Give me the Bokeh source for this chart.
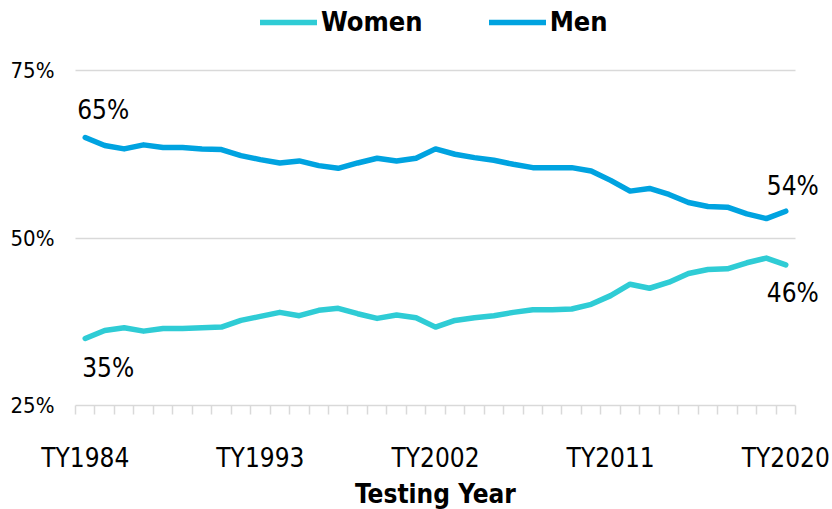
from bokeh.plotting import figure
from bokeh.models import (FixedTicker, PrintfTickFormatter, Legend, LegendItem,
                          Label, Range1d)
from bokeh.embed import file_html
from bokeh.resources import INLINE

years = list(range(1984, 2021))
men = [65.0, 63.8, 63.3, 63.9, 63.5, 63.5, 63.3, 63.2, 62.3, 61.7,
       61.2, 61.5, 60.8, 60.4, 61.2, 61.9, 61.5, 61.9, 63.3, 62.5,
       62.0, 61.6, 61.0, 60.5, 60.5, 60.5, 60.0, 58.6, 57.0, 57.4,
       56.5, 55.3, 54.7, 54.6, 53.6, 52.9, 54.0]
women = [35.0, 36.2, 36.6, 36.1, 36.5, 36.5, 36.6, 36.7, 37.7, 38.3,
         38.9, 38.4, 39.2, 39.5, 38.7, 38.0, 38.5, 38.1, 36.7, 37.7,
         38.1, 38.4, 38.9, 39.3, 39.3, 39.4, 40.1, 41.4, 43.1, 42.5,
         43.4, 44.7, 45.3, 45.4, 46.3, 47.0, 46.0]
tick_years = [1984, 1993, 2002, 2011, 2020]
tick_labels = ["TY1984", "TY1993", "TY2002", "TY2011", "TY2020"]
y_ticks = [25, 50, 75]
series_names = ["Women", "Men"]

FONT = "DejaVu Sans Condensed"
WOMEN_C = "#2FCCD5"
MEN_C = "#00A3E0"
GRID_C = "#d9d9d9"

# layout geometry (pixels); the frame fills the whole figure and the axes
# are pinned to the data edges of the plotting area
W, H = 832, 509
PLOT_L, PLOT_R = 75, 795      # pixel span of the category band area
PLOT_T, PLOT_B = 70, 405      # pixel span between 75% and 25%
x0, x1 = years[0] - 0.5, years[-1] + 0.5
ppx = (PLOT_R - PLOT_L) / (x1 - x0)
ppy = (PLOT_B - PLOT_T) / (y_ticks[-1] - y_ticks[0])
x_start = x0 - PLOT_L / ppx
x_end = x1 + (W - PLOT_R) / ppx
y_end = y_ticks[-1] + PLOT_T / ppy
y_start = y_ticks[0] - (H - PLOT_B) / ppy

p = figure(width=W, height=H, output_backend="svg", toolbar_location=None,
           x_range=Range1d(x_start, x_end), y_range=Range1d(y_start, y_end),
           min_border_left=0, min_border_right=0, min_border_top=0,
           min_border_bottom=0)
p.outline_line_color = None
p.background_fill_color = "white"
p.border_fill_color = "white"

# horizontal gridlines limited to the category area
p.xgrid.grid_line_color = None
yg = p.ygrid[0]
if "cross_bounds" in yg.properties():
    yg.ticker = FixedTicker(ticks=y_ticks[1:])
    yg.cross_bounds = (x0, x1)
    yg.grid_line_color = GRID_C
    yg.grid_line_width = 1.5
else:
    yg.grid_line_color = None
    gy = y_ticks[1:]
    p.segment(x0=[x0] * len(gy), y0=gy, x1=[x1] * len(gy), y1=gy,
              line_color=GRID_C, line_width=1.5, level="underlay")

rw = p.line(years, women, line_color=WOMEN_C, line_width=5.5,
            line_join="round", line_cap="round")
rm = p.line(years, men, line_color=MEN_C, line_width=5.5,
            line_join="round", line_cap="round")

# x axis, drawn at the 25% level
xa = p.xaxis[0]
xa.fixed_location = y_ticks[0]
xa.bounds = (x0, x1)
xa.ticker = FixedTicker(ticks=tick_years,
                        minor_ticks=[x0 + i for i in range(len(years) + 1)])
xa.major_label_overrides = {y: l for y, l in zip(tick_years, tick_labels)}
xa.major_tick_in = 0
xa.major_tick_out = 0
xa.minor_tick_in = 0
xa.minor_tick_out = 9
xa.minor_tick_line_color = GRID_C
xa.minor_tick_line_width = 1.5
xa.axis_line_color = GRID_C
xa.axis_line_width = 1.5
xa.major_label_standoff = 28
xa.major_label_text_font = FONT
xa.major_label_text_font_size = "26px"
xa.major_label_text_color = "black"
xa.axis_label = "Testing Year"
xa.axis_label_text_font = FONT
xa.axis_label_text_font_size = "26px"
xa.axis_label_text_font_style = "bold"
xa.axis_label_text_color = "black"
xa.axis_label_standoff = 3

# y axis, drawn at the left edge of the category area
ya = p.yaxis[0]
ya.fixed_location = x0
ya.bounds = (y_ticks[0], y_ticks[-1])
ya.ticker = FixedTicker(ticks=y_ticks)
ya.formatter = PrintfTickFormatter(format="%d%%")
ya.axis_line_color = None
ya.major_tick_line_color = None
ya.major_tick_out = 0
ya.major_tick_in = 0
ya.minor_tick_line_color = None
ya.minor_tick_out = 0
ya.major_label_standoff = 21
ya.major_label_text_font = FONT
ya.major_label_text_font_size = "22px"
ya.major_label_text_color = "black"

legend = Legend(items=[LegendItem(label=series_names[0], renderers=[rw]),
                       LegendItem(label=series_names[1], renderers=[rm])],
                orientation="horizontal", location=(260, 472),
                glyph_width=57, glyph_height=30, label_height=30,
                label_standoff=4, spacing=66, padding=0, margin=0,
                border_line_color=None, background_fill_alpha=0,
                label_text_font=FONT, label_text_font_size="27px",
                label_text_font_style="bold", label_text_color="black")
p.add_layout(legend, "center")

def add_label(x, y, xo, yo):
    p.add_layout(Label(x=x, y=y, text=f"{y:.0f}%", x_offset=xo, y_offset=yo,
                       text_align="left", text_baseline="middle",
                       text_font=FONT, text_font_size="26px", text_color="black"))

add_label(years[0], men[0], -8, 28)
add_label(years[0], women[0], -3, -29)
add_label(years[-1], men[-1], -19, 25)
add_label(years[-1], women[-1], -19, -28)

open("out.html", "w").write(file_html(p, INLINE))
